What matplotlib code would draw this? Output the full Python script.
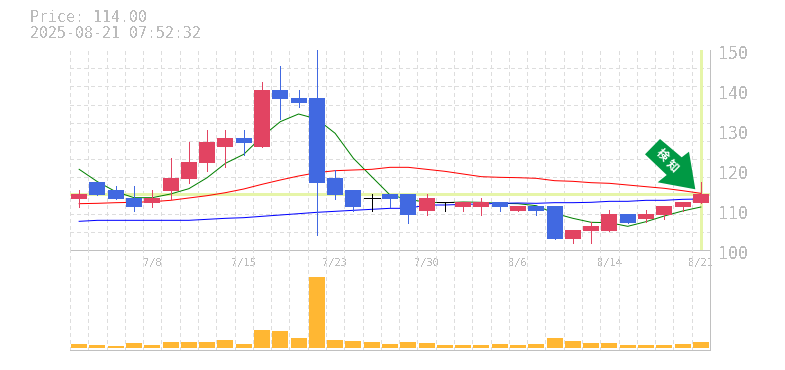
import matplotlib
matplotlib.use("Agg")
import matplotlib.pyplot as plt
from matplotlib.patches import Polygon
from matplotlib.transforms import ScaledTranslation

W, H = 785, 370

# daily candles
dates = {4: "7/8", 9: "7/15", 14: "7/23", 19: "7/30", 24: "8/6", 29: "8/14", 34: "8/21"}
opens = [112.75, 117, 115, 113, 111.75, 114.75, 117.75, 121.75, 125.75, 128, 125.75, 140, 138, 138, 118, 115, 113, 114,
         114, 109.75, 112, 110.75, 110.75, 112, 109.75, 111, 111, 102.75, 104.75, 104.75, 109, 107.75, 108.75, 110.75, 111.75]
closes = [114, 113.75, 112.75, 110.83, 113, 118, 122, 127, 128, 126.75, 140, 137.75, 136.75, 116.75, 113.75, 110.75, 113, 112.75,
          108.75, 113, 112, 112, 112, 110.75, 111, 109.75, 102.75, 105, 106, 109, 106.75, 109, 111, 112, 114]
highs = [115, 117, 116, 116, 115, 123, 127, 130, 130, 130, 142, 146, 140, 155, 120, 115, 114, 114,
         114, 114, 112, 112, 113, 112, 111, 111, 111, 105, 107, 110, 109, 110, 111, 112, 117]
lows = [110.83, 113.75, 112.75, 109.83, 110.83, 112.75, 116.75, 119.75, 120.75, 123.75, 125.75, 132.75, 135.75, 103.75, 112.75, 109.75, 109.75, 110.83,
        106.75, 108.75, 109.75, 109.75, 108.75, 109.75, 109.75, 108.75, 102.75, 101.75, 101.75, 104.75, 106.75, 107, 107.75, 109.75, 111.75]
volumes = [4, 3, 2, 5, 3, 6, 6, 6, 8, 4, 18, 17, 10, 71, 8, 7, 6, 4,
           6, 5, 3, 3, 3, 4, 3, 4, 10, 7, 5, 5, 3, 3, 3, 4, 6]

# moving averages
ma_short = [120.17, 117.08, 114.58, 113.08, 113.08, 114, 115.33, 118.08, 121.67, 123.92, 128.33, 132.08, 134, 132.75, 129.17, 122.92, 118.33, 113.75,
            112.67, 111.92, 111.83, 112, 111.92, 111.67, 111.58, 111.08, 109.17, 107.92, 106.92, 106.83, 105.92, 107.08, 108.5, 109.75, 110.75]
ma_mid = [111.58, 111.67, 111.83, 111.92, 112.08, 112.42, 113, 113.58, 114.33, 115.25, 116.42, 117.5, 118.5, 119.33, 119.83, 120, 120.17, 120.67,
          120.67, 120.17, 119.67, 119, 118.33, 118.17, 118.08, 117.92, 117.33, 117.17, 116.83, 116.67, 116.25, 115.83, 115.42, 114.83, 114.17]
ma_long = [107.17, 107.42, 107.42, 107.42, 107.42, 107.42, 107.42, 107.67, 107.92, 108.08, 108.42, 108.75, 109.08, 109.42, 109.67, 109.92, 110.17, 110.42,
           110.42, 111.25, 111.25, 111.42, 111.5, 111.67, 111.75, 111.67, 111.83, 111.83, 111.92, 112.17, 112.17, 112.42, 112.42, 112.67, 112.75]

last_price = 114
arrow_px = [(660, 139), (645, 154.3), (666.7, 175), (657.7, 182.3), (695.3, 189.3), (689, 151.7), (681.7, 157.3)]

UP, DOWN = "#E24462", "#4169E1"
GRID, FRAME, TEXT = "#DDDDDD", "#C0C0C0", "#BBBBBB"
HILITE = "#E6F5A8"
PX = 0.72  # one pixel in points at dpi 100

plt.rcParams["font.family"] = ["DejaVu Sans Mono"]
plt.rcParams["text.antialiased"] = False


def box(left, top, right, bottom):
    return [left / W, 1 - bottom / H, (right - left) / W, (bottom - top) / H]


def fig_px(x, y):
    return x / W, 1 - y / H


fig = plt.figure(figsize=(W / 100, H / 100), dpi=100)
ax_price = fig.add_axes(box(70, 50, 710, 250))
ax_vol = fig.add_axes(box(70, 250, 710, 350), sharex=ax_price)
ax_vol.patch.set_visible(False)

n = len(closes)
xs = list(range(n))

for ax in (ax_price, ax_vol):
    ax.set_xlim(-0.5, n - 0.5)
    ax.set_xticks([i - 0.5 for i in range(n + 1)], minor=True)
    ax.grid(True, which="minor", axis="x", color=GRID, lw=PX, ls=(0, (3, 3)), antialiased=False)
    ax.tick_params(which="both", length=0)
    ax.set_axisbelow(True)
    ax.spines["left"].set_visible(False)
    ax.spines["top"].set_visible(False)
    ax.spines["right"].set(color=FRAME, lw=PX)
    ax.spines["bottom"].set(color=FRAME, lw=PX)

# ── Price panel ────────────────────────────────────────────────
ax_price.set_ylim(100, 150)
ax_price.set_yticks([100 + 50 * i / 11 for i in range(12)], minor=True)
ax_price.grid(True, which="minor", axis="y", color=GRID, lw=PX, ls=(0, (3, 3)), antialiased=False)

ax_price.axhline(last_price, color=HILITE, lw=3 * PX, zorder=1.5)
ax_price.axvline(n - 1, ymin=0.01, ymax=0.995, color=HILITE, lw=3 * PX, zorder=1.5)

# 1px lines, antialiased because aliased agg lines come out 2px wide on slopes
ax_price.plot(xs, ma_short, color="#008000", lw=PX, zorder=2)
ax_price.plot(xs, ma_mid, color="#FF0000", lw=PX, zorder=2)
ax_price.plot(xs, ma_long, color="#0000FF", lw=PX, zorder=2)

for i in xs:
    o, c = opens[i], closes[i]
    color = UP if c > o else DOWN if c < o else "black"
    ax_price.vlines(i, lows[i], highs[i], color=color, lw=PX, antialiased=False, zorder=3)
    if c == o:
        ax_price.hlines(c, i - 0.44, i + 0.44, color=color, lw=PX, antialiased=False, zorder=3)
    else:
        ax_price.bar(i, abs(c - o), bottom=min(o, c), width=0.875, color=color, antialiased=False, zorder=3)

ax_price.yaxis.tick_right()
ax_price.set_yticks([100, 110, 120, 130, 140, 150])
ax_price.tick_params(axis="y", which="major", labelsize=12, labelcolor=TEXT, pad=6)
for label in ax_price.get_yticklabels():
    label.set_transform(label.get_transform() + ScaledTranslation(0, -2 / 100, fig.dpi_scale_trans))
ax_price.set_xticks(list(dates))
ax_price.set_xticklabels(list(dates.values()))
ax_price.tick_params(axis="x", which="major", labelsize=7.5, labelcolor=TEXT, pad=6)

# ── Volume panel ───────────────────────────────────────────────
ax_vol.set_ylim(-2, 98)
ax_vol.bar(xs, volumes, width=0.875, color="#FFB733", antialiased=False, zorder=3)
ax_vol.set_yticks([])
ax_vol.tick_params(axis="x", labelbottom=False)

# ── Signal arrow and header ────────────────────────────────────
fig.add_artist(Polygon([fig_px(x, y) for x, y in arrow_px], closed=True, transform=fig.transFigure,
                       facecolor="#009944", edgecolor="none", zorder=5))
for (gx, gy), glyph in zip([(661.7, 155), (672.3, 165.7)], "検知"):
    fig.text(*fig_px(gx, gy), glyph, family=["Noto Sans CJK JP", "DejaVu Sans"], fontsize=8.5, fontweight="bold",
             color="white", rotation=-45, rotation_mode="anchor", ha="center", va="center", zorder=6,
             antialiased=True)

fig.text(*fig_px(30, 18), "Price: 114.00", fontsize=10.7, color=TEXT, ha="left", va="center")
fig.text(*fig_px(30, 33), "2025-08-21 07:52:32", fontsize=10.7, color=TEXT, ha="left", va="center")

fig.savefig("out.png", dpi=100)
